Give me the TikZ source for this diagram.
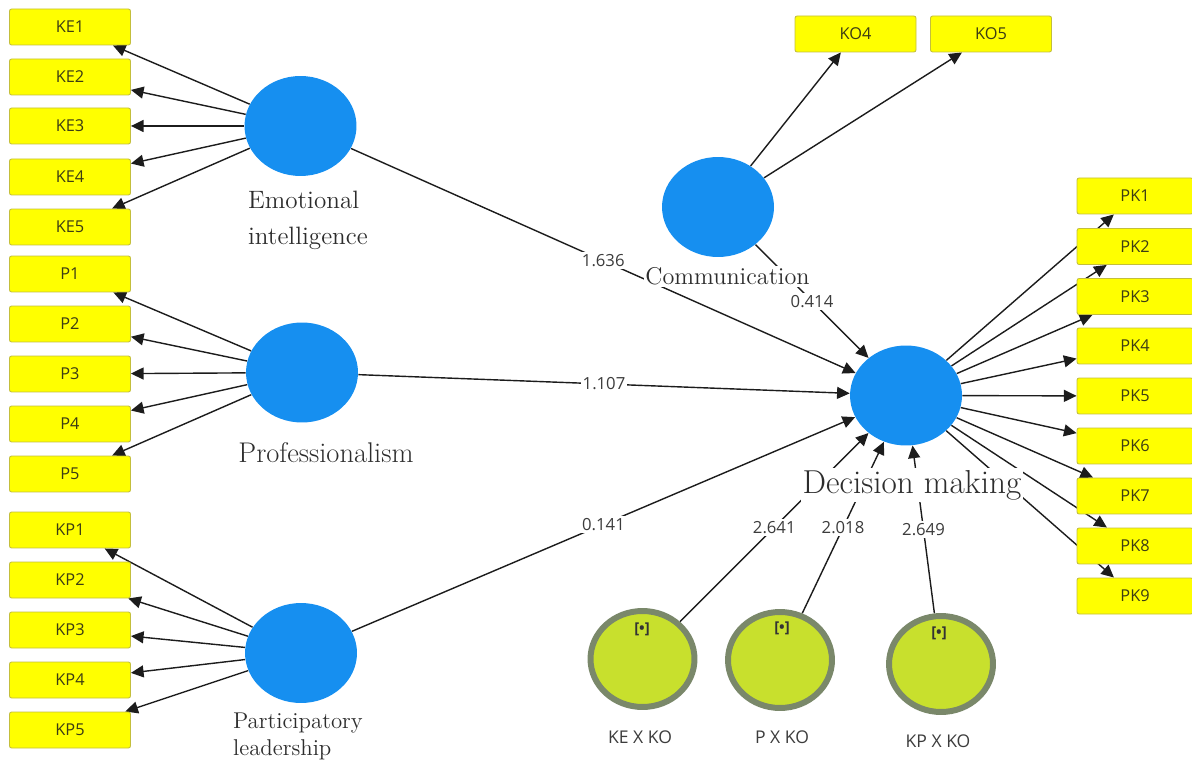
\documentclass[tikz,border=0pt]{standalone}
\usepackage{fontspec}
\newfontfamily\boxfont{Open Sans}
\usetikzlibrary{shapes.geometric,arrows.meta,calc}
\pgfdeclarelayer{bg}
\pgfsetlayers{bg,main}
\definecolor{lvblue}{RGB}{22,143,240}
\definecolor{indyellow}{RGB}{255,255,0}
\definecolor{indborder}{RGB}{195,190,60}
\definecolor{modfill}{RGB}{200,224,45}
\definecolor{modring}{RGB}{122,136,106}
\definecolor{linecol}{RGB}{28,28,28}
\definecolor{txtcol}{RGB}{60,60,60}
\definecolor{lvtxt}{RGB}{45,45,45}
\definecolor{boxtxt}{RGB}{60,60,20}
\begin{document}
\begin{tikzpicture}[x=0.02cm,y=-0.02cm,
  latent/.style={ellipse, fill=lvblue, minimum width=2.24cm, minimum height=2cm, inner sep=0pt},
  ind/.style={rectangle, rounded corners=1.2pt, fill=indyellow, draw=indborder, line width=0.5pt,
    minimum width=2.42cm, minimum height=0.72cm, inner sep=0pt,
    font=\boxfont\fontsize{9.3}{10}\selectfont, text=boxtxt},
  indr/.style={ind, minimum width=2.32cm},
  moder/.style={ellipse, fill=modfill, draw=modring, line width=3.4pt,
    minimum width=2.08cm, minimum height=1.92cm, inner sep=0pt},
  conn/.style={draw=linecol, line width=0.8pt, -{Triangle[length=7.2pt,width=6.8pt]}},
  coef/.style={fill=white, inner sep=1.2pt, font=\boxfont\fontsize{9.5}{11}\selectfont, text=txtcol},
  lvlabel/.style={fill=white, inner sep=1pt, text=lvtxt},
  modlabel/.style={inner sep=1pt, font=\boxfont\fontsize{10}{12}\selectfont, text=txtcol},
  symlabel/.style={inner sep=0pt, font=\boxfont\bfseries\fontsize{8.5}{10}\selectfont, text=black!80}
]
\useasboundingbox (0,0) rectangle (1192,766);

% latent variables
\node[latent] (ei) at (300.5,126) {};
\node[latent] (pr) at (302,372.5) {};
\node[latent] (pl) at (301,653) {};
\node[latent] (co) at (718,207) {};
\node[latent] (dm) at (906,395.5) {};

% moderators
\node[moder] (m1) at (642.5,659) {};
\node[moder] (m2) at (780,660) {};
\node[moder] (m3) at (941,664) {};
\node[symlabel] (m1s) at (642,629) {[•]};
\node[symlabel] (m2s) at (782,628) {[•]};
\node[symlabel] (m3s) at (939,633) {[•]};

% indicators
\foreach \n/\y in {KE1/27,KE2/77,KE3/126,KE4/177,KE5/227,P1/274,P2/324,P3/374,P4/424,P5/474,KP1/530,KP2/580,KP3/630,KP4/680,KP5/730}
  \node[ind] (\n) at (70,\y) {\n};
\node[ind] (KO4) at (855.5,34) {KO4};
\node[ind] (KO5) at (991,34) {KO5};
\foreach \n/\y in {PK1/196,PK2/246.5,PK3/296.5,PK4/346,PK5/396,PK6/446,PK7/496,PK8/546,PK9/596}
  \node[indr] (\n) at (1135,\y) {\n};

% connectors
\begin{pgfonlayer}{bg}
  \foreach \n in {KE1,KE2,KE3,KE4,KE5} \draw[conn] (ei) -- (\n);
  \foreach \n in {P1,P2,P3,P4,P5} \draw[conn] (pr) -- (\n);
  \foreach \n in {KP1,KP2,KP3,KP4,KP5} \draw[conn] (pl) -- (\n);
  \foreach \n in {KO4,KO5} \draw[conn] (co) -- (\n);
  \foreach \n in {PK1,PK2,PK3,PK4,PK5,PK6,PK7,PK8,PK9} \draw[conn] (dm) -- (\n);
  \draw[conn] (ei) -- (dm);
  \draw[conn] (pr) -- (dm);
  \draw[conn] (pl) -- (dm);
  \draw[conn] (co) -- (dm);
  \draw[conn] (m1) -- (dm);
  \draw[conn] (m2) -- (dm);
  \draw[conn] (m3) -- (dm);
\end{pgfonlayer}

% path coefficients
\node[coef] (c1) at ($(ei)!0.5!(dm)$) {1.636};
\node[coef] (c2) at ($(pr)!0.5!(dm)$) {1.107};
\node[coef] (c3) at ($(pl)!0.5!(dm)$) {0.141};
\node[coef] (c4) at ($(co)!0.5!(dm)$) {0.414};
\node[coef] (c5) at ($(m1)!0.5!(dm)$) {2.641};
\node[coef] (c6) at ($(m2)!0.5!(dm)$) {2.018};
\node[coef] (c7) at ($(m3)!0.5!(dm)$) {2.649};

% latent labels
\node[lvlabel, anchor=west, align=left, font=\fontsize{14.3}{20.5}\selectfont] (eil) at (246,220) {Emotional\\intelligence};
\node[lvlabel, anchor=base, font=\fontsize{16.2}{19}\selectfont] (prl) at (326,462) {Professionalism};
\node[lvlabel, anchor=west, align=left, font=\fontsize{13}{15.3}\selectfont] (pll) at (231,736) {Participatory\\leadership};
\node[lvlabel, anchor=base, font=\fontsize{13.8}{16}\selectfont] (col) at (727.5,285) {Communication};
\node[lvlabel, anchor=base, font=\fontsize{18.9}{22}\selectfont] (dml) at (912,493) {Decision making};

% moderator labels
\node[modlabel] (m1l) at (640,737) {KE X KO};
\node[modlabel] (m2l) at (782,737) {P X KO};
\node[modlabel] (m3l) at (938,741) {KP X KO};
\end{tikzpicture}
\end{document}
